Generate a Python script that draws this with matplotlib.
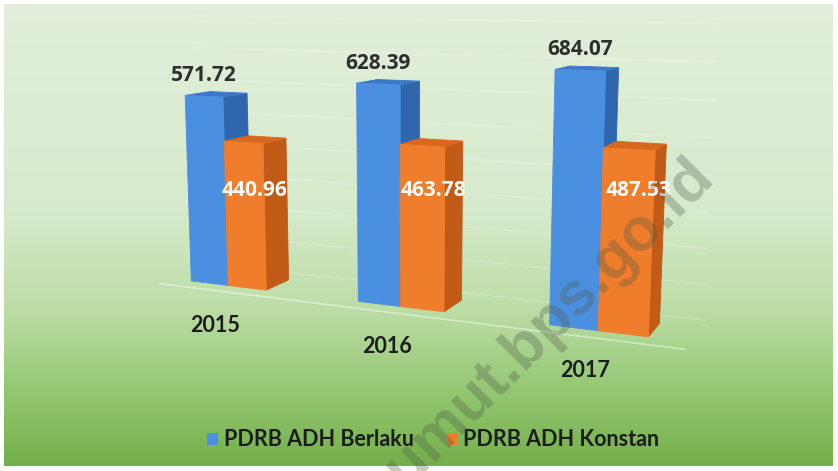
import numpy as np
import matplotlib.pyplot as plt
from matplotlib.patches import Polygon, Rectangle
from matplotlib.colors import LinearSegmentedColormap

years = ['2015', '2016', '2017']
berlaku = [571.72, 628.39, 684.07]
konstan = [440.96, 463.78, 487.53]
series_names = ['PDRB ADH Berlaku', 'PDRB ADH Konstan']

W, H = 838, 471

# face colours: front, side, top
BLUE = ('#4b8fe0', '#2f66ad', '#3c78c8')
ORANGE = ('#f07d2c', '#c25a18', '#d9681f')

# simple pinhole camera for the 3-D look
TH = np.radians(24)
PH = np.radians(10)
DIST = 25.0
FOC = 1175.0
CX, CY = 410.0, 187.0
BAR_W = 1.0
DEPTH = 1.0
GROUP = 4.3
YS = 0.0075
TX, TY, TZ = GROUP + 1.0, 2.5, 0.5


def proj(X, Y, Z):
    X, Y, Z = X - TX, Y - TY, Z - TZ
    x1 = X * np.cos(TH) + Z * np.sin(TH)
    z1 = -X * np.sin(TH) + Z * np.cos(TH)
    y2 = Y * np.cos(PH) + z1 * np.sin(PH)
    z2 = -Y * np.sin(PH) + z1 * np.cos(PH) + DIST
    return CX + FOC * x1 / z2, CY - FOC * y2 / z2


def face(ax, pts, color, z):
    xy = [proj(*p) for p in pts]
    ax.add_patch(Polygon(xy, closed=True, facecolor=color, edgecolor=color,
                         lw=0.6, zorder=z))


def box(ax, x0, value, colors, z):
    h = value * YS
    x1 = x0 + BAR_W
    face(ax, [(x1, 0, 0), (x1, 0, DEPTH), (x1, h, DEPTH), (x1, h, 0)], colors[1], z)
    face(ax, [(x0, h, 0), (x1, h, 0), (x1, h, DEPTH), (x0, h, DEPTH)], colors[2], z)
    face(ax, [(x0, 0, 0), (x1, 0, 0), (x1, h, 0), (x0, h, 0)], colors[0], z)
    return h


fig = plt.figure(figsize=(W / 100, H / 100), dpi=100)
fig.patch.set_facecolor('white')

# green gradient backdrop
bg = fig.add_axes([4 / W, 5 / H, (W - 10) / W, (H - 9) / H])
grad = np.linspace(0, 1, 256).reshape(-1, 1)
cmap = LinearSegmentedColormap.from_list(
    'bg', [(0, '#e2efdb'), (0.45, '#d6eacb'), (0.66, '#bcdda6'),
           (0.84, '#93c772'), (1, '#74af4a')])
bg.imshow(grad, aspect='auto', cmap=cmap)
bg.axis('off')

ax = fig.add_axes([0, 0, 1, 1])
ax.set_xlim(0, W)
ax.set_ylim(H, 0)
ax.axis('off')
ax.patch.set_alpha(0)

# faint back-wall gridlines and floor edge
x_end = 2 * GROUP + 2 + 0.8
for gv in range(0, 900, 100):
    a = proj(-0.8, gv * YS, DEPTH + 0.6)
    b = proj(x_end, gv * YS, DEPTH + 0.6)
    ax.plot([a[0], b[0]], [a[1], b[1]], color='white', alpha=0.22, lw=1, zorder=1)
a = proj(-0.5, 0, -0.5)
b = proj(x_end, 0, -0.5)
ax.plot([a[0], b[0]], [a[1], b[1]], color='white', alpha=0.45, lw=1.2, zorder=1)

for i, year in enumerate(years):
    gx = i * GROUP
    hb = box(ax, gx, berlaku[i], BLUE, 3 + 2 * i)
    hk = box(ax, gx + BAR_W, konstan[i], ORANGE, 4 + 2 * i)

    ax.annotate(f'{berlaku[i]:.2f}', xy=proj(gx + 0.5, hb, 0),
                xytext=(0, 10), textcoords='offset pixels', ha='center', va='bottom',
                fontsize=15, fontweight='bold', family='Open Sans', color='#2e2e2e',
                zorder=20)
    ux, _ = proj(gx + 1.75, hk * 0.5, 0)
    ax.text(ux, 190, f'{konstan[i]:.2f}', ha='center', va='center',
            fontsize=15, fontweight='bold', family='Open Sans', color='white', zorder=20)

    ax.annotate(year, xy=proj(gx + 1, 0, 0), xytext=(-13, -40),
                textcoords='offset pixels', ha='center', va='center',
                fontsize=15.5, fontweight='bold', family='Lato', color='#1c1c1c', zorder=20)

# watermark
ax.text(539, 335, 'sumut.bps.go.id', rotation=45, rotation_mode='anchor',
        ha='center', va='center', fontsize=44, fontweight='bold',
        family='Liberation Sans', color='#4f5a48', alpha=0.32, zorder=30)

# legend
for (lx, tx), name, col in zip([(207, 224), (447, 463)], series_names, [BLUE[0], ORANGE[0]]):
    ax.add_patch(Rectangle((lx, 433), 11, 12, facecolor=col, edgecolor='none', zorder=20))
    ax.text(tx, 439, name, ha='left', va='center', fontsize=15.5, fontweight='bold',
            family='Lato', color='#1c1c1c', zorder=20)

fig.savefig('out.png', dpi=100)
